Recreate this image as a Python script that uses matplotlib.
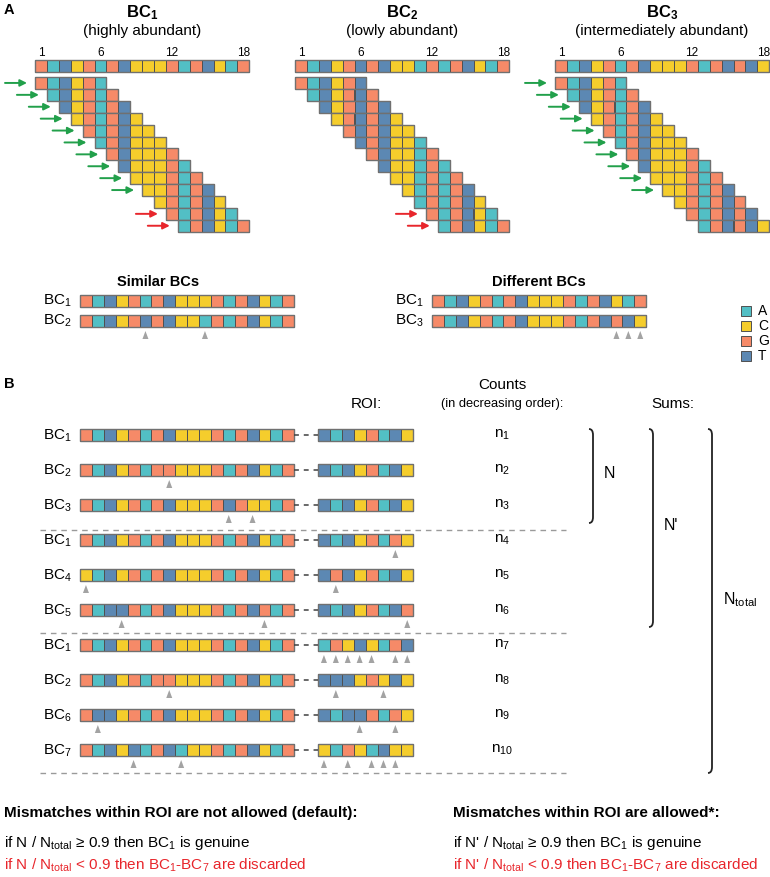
import matplotlib
matplotlib.use("Agg")
import matplotlib.pyplot as plt
from matplotlib.patches import Rectangle, Polygon, PathPatch
from matplotlib.path import Path

plt.rcParams['font.family'] = ['Liberation Sans', 'DejaVu Sans']
plt.rcParams['mathtext.fontset'] = 'custom'
plt.rcParams['mathtext.rm'] = 'Liberation Sans'
plt.rcParams['mathtext.it'] = 'Liberation Sans:italic'
plt.rcParams['mathtext.bf'] = 'Liberation Sans:bold'

# ---------------- data ----------------
base_colors = {'A': '#52bfc5', 'C': '#f5cd2c', 'G': '#f68a68', 'T': '#5c88b3'}
legend_bases = ['A', 'C', 'G', 'T']

# Panel A barcodes
panelA_names = ['BC$_\\mathbf{1}$', 'BC$_\\mathbf{2}$', 'BC$_\\mathbf{3}$']
panelA_subtitles = ['(highly abundant)', '(lowly abundant)', '(intermediately abundant)']
panelA_seqs = ['GATCGAGTCCCGAGTCAG',
               'GATCGTGTCCAGAGTCAG',
               'GATCGAGTCCCGAGTGTC']
# arrow flags per 6-mer window row: g = green, r = red, - = none
panelA_arrows = ['gggggggggg-rr',
                 '-----------rr',
                 'gggggggggg---']
kmer = 6
position_ticks = [1, 6, 12, 18]

# Similar / different comparisons
similar_labels = ['BC$_1$', 'BC$_2$']
similar_seqs = ['GATCGAGTCCCGAGTCAG', 'GATCGTGTCCAGAGTCAG']
similar_marks = [6, 11]
different_labels = ['BC$_1$', 'BC$_3$']
different_seqs = ['GATCGAGTCCCGAGTCAG', 'GATCGAGTCCCGAGTGTC']
different_marks = [16, 17, 18]

# Panel B
B_labels = ['BC$_1$', 'BC$_2$', 'BC$_3$', 'BC$_1$', 'BC$_4$', 'BC$_5$',
            'BC$_1$', 'BC$_2$', 'BC$_6$', 'BC$_7$']
B_seqs = ['GATCGAGTCCCGAGTCAG',
          'GATCGAGGCCCGAGTCAG',
          'GATCGAGTCCCGTGCCAG',
          'GATCGAGTCCCGAGTCAG',
          'CATCGAGTCCCGAGTCAG',
          'GATTGAGTCCCGAGTGAG',
          'GATCGAGTCCCGAGTCAG',
          'GATCGAGGCCCGAGTCAG',
          'GTTCGAGTCCCGAGTCAG',
          'GATCTAGTACCGAGTCAG']
B_roi = ['TATCGATC', 'TATCGATC', 'TATCGATC', 'TATCGAGC', 'TGTCGATC',
         'TATCGATG', 'AGCTCAGT', 'TTTCGCTC', 'TATTGAGC', 'CAGCATCC']
B_marks = [[], [8], [13, 15], [], [1], [4, 16], [], [8], [2], [5, 9]]
B_roi_marks = [[], [], [], [7], [2], [8], [1, 2, 3, 4, 5, 7, 8], [2, 6], [4, 7],
               [1, 3, 5, 6, 7]]
B_counts = ['n$_{1}$', 'n$_{2}$', 'n$_{3}$', 'n$_{4}$', 'n$_{5}$', 'n$_{6}$',
            'n$_{7}$', 'n$_{8}$', 'n$_{9}$', 'n$_{10}$']

# ---------------- figure ----------------
W, H = 770, 877
fig = plt.figure(figsize=(W / 100, H / 100), dpi=100)
ax = fig.add_axes([0, 0, 1, 1])
ax.set_xlim(0, W)
ax.set_ylim(H, 0)
ax.axis('off')

cw = 11.9
EDGE = '#505050'
TRI = '#a3a3a3'
GREEN = '#22a04b'
RED = '#e8262c'


def draw_seq(x0, y0, seq, size=cw):
    for i, b in enumerate(seq):
        ax.add_patch(Rectangle((x0 + i * size, y0), size, size,
                               facecolor=base_colors[b], edgecolor=EDGE, lw=0.7))
    ax.add_patch(Rectangle((x0, y0), size * len(seq), size, fill=False,
                           edgecolor='#707070', lw=1.0))


def draw_marks(x0, ytop, positions):
    for p in positions:
        cx = x0 + (p - 0.5) * cw
        ax.add_patch(Polygon([[cx - 3, ytop + 8], [cx + 3, ytop + 8], [cx, ytop]],
                             closed=True, facecolor=TRI, edgecolor='none'))


# ---- Panel A ----
ax.text(4, 10, 'A', fontsize=10.5, fontweight='bold', ha='left', va='center')
panel_x0 = [35, 295, 555]
for k in range(3):
    x0 = panel_x0[k]
    cx = x0 + 9 * cw
    ax.text(cx, 13, panelA_names[k], fontsize=12, fontweight='bold',
            ha='center', va='center')
    ax.text(cx, 31, panelA_subtitles[k], fontsize=11, ha='center', va='center')
    seq = panelA_seqs[k]
    for t in position_ticks:
        ax.text(x0 + (t - 0.5) * cw, 53, str(t), fontsize=8.5, ha='center', va='center')
    draw_seq(x0, 60, seq)
    nrows = len(seq) - kmer + 1
    for r in range(nrows):
        rx = x0 + r * cw
        ry = 77 + r * cw
        draw_seq(rx, ry, seq[r:r + kmer])
        flag = panelA_arrows[k][r]
        if flag != '-':
            col = GREEN if flag == 'g' else RED
            ax.annotate('', xy=(rx - 8, ry + cw / 2), xytext=(rx - 30, ry + cw / 2),
                        arrowprops=dict(arrowstyle='-|>', color=col, lw=1.4,
                                        mutation_scale=10, shrinkA=0, shrinkB=0))

# ---- Similar / Different ----
ax.text(158, 282, 'Similar BCs', fontsize=10.5, fontweight='bold', ha='center', va='center')
ax.text(539, 282, 'Different BCs', fontsize=10.5, fontweight='bold', ha='center', va='center')
for i in range(2):
    y0 = 295 + i * 20
    ax.text(43, y0 + 6, similar_labels[i], fontsize=11, ha='left', va='center')
    draw_seq(80, y0, similar_seqs[i])
    ax.text(395, y0 + 6, different_labels[i], fontsize=11, ha='left', va='center')
    draw_seq(432, y0, different_seqs[i])
draw_marks(80, 331, similar_marks)
draw_marks(432, 331, different_marks)

# legend
for i, b in enumerate(legend_bases):
    ly = 306 + i * 15
    ax.add_patch(Rectangle((741, ly), 10, 10, facecolor=base_colors[b],
                           edgecolor=EDGE, lw=0.7))
    ax.text(758, ly + 5, b, fontsize=10, ha='left', va='center')

# ---- Panel B ----
ax.text(4, 384, 'B', fontsize=10.5, fontweight='bold', ha='left', va='center')
ax.text(366, 404, 'ROI:', fontsize=11, ha='center', va='center')
ax.text(502, 385, 'Counts', fontsize=11, ha='center', va='center')
ax.text(502, 404, '(in decreasing order):', fontsize=9.3, ha='center', va='center')
ax.text(673, 404, 'Sums:', fontsize=11, ha='center', va='center')

main_x0 = 80
roi_x0 = 318
for i in range(len(B_seqs)):
    y0 = 429 + i * 35
    yc = y0 + 6
    ax.text(43, yc + 1, B_labels[i], fontsize=11, ha='left', va='center')
    draw_seq(main_x0, y0, B_seqs[i])
    ax.plot([main_x0 + 18 * cw, roi_x0], [yc, yc], color='#404040', lw=1.1,
            linestyle=(0, (3.2, 3.2)))
    draw_seq(roi_x0, y0, B_roi[i])
    draw_marks(main_x0, y0 + 16, B_marks[i])
    draw_marks(roi_x0, y0 + 16, B_roi_marks[i])
    ax.text(502, yc, B_counts[i], fontsize=11, ha='center', va='center')

for ys in [530, 633, 773]:
    ax.plot([40, 566], [ys, ys], color='#9a9a9a', lw=1.0, linestyle=(0, (4, 3.5)))


def brace(x, top, bot):
    verts = [(x - 4, top), (x, top), (x, top + 6), (x, bot - 6), (x, bot), (x - 4, bot)]
    codes = [Path.MOVETO, Path.CURVE3, Path.CURVE3, Path.LINETO, Path.CURVE3, Path.CURVE3]
    ax.add_patch(PathPatch(Path(verts, codes), fill=False, edgecolor='#222222', lw=1.3))


brace(593, 429, 523)
ax.text(609, 473, 'N', fontsize=11.5, ha='center', va='center')
brace(653, 429, 627)
ax.text(671, 526, "N'", fontsize=11.5, ha='center', va='center')
brace(712, 429, 773)
ax.text(740, 600, 'N$_{\\mathrm{total}}$', fontsize=11.5, ha='center', va='center')

# ---- bottom text ----
FS = 11
ax.text(4, 813, 'Mismatches within ROI are not allowed (default):', fontsize=FS,
        fontweight='bold', ha='left', va='center')
ax.text(4, 843, 'if N / N$_{\\mathrm{total}}$ \u2265 0.9 then BC$_1$ is genuine',
        fontsize=FS, ha='left', va='center')
ax.text(4, 865, 'if N / N$_{\\mathrm{total}}$ < 0.9 then BC$_1$-BC$_7$ are discarded',
        fontsize=FS, ha='left', va='center', color=RED)
ax.text(453, 813, 'Mismatches within ROI are allowed*:', fontsize=FS,
        fontweight='bold', ha='left', va='center')
ax.text(453, 843, "if N' / N$_{\\mathrm{total}}$ \u2265 0.9 then BC$_1$ is genuine",
        fontsize=FS, ha='left', va='center')
ax.text(453, 865, "if N' / N$_{\\mathrm{total}}$ < 0.9 then BC$_1$-BC$_7$ are discarded",
        fontsize=FS, ha='left', va='center', color=RED)

fig.savefig('out.png', dpi=100)
